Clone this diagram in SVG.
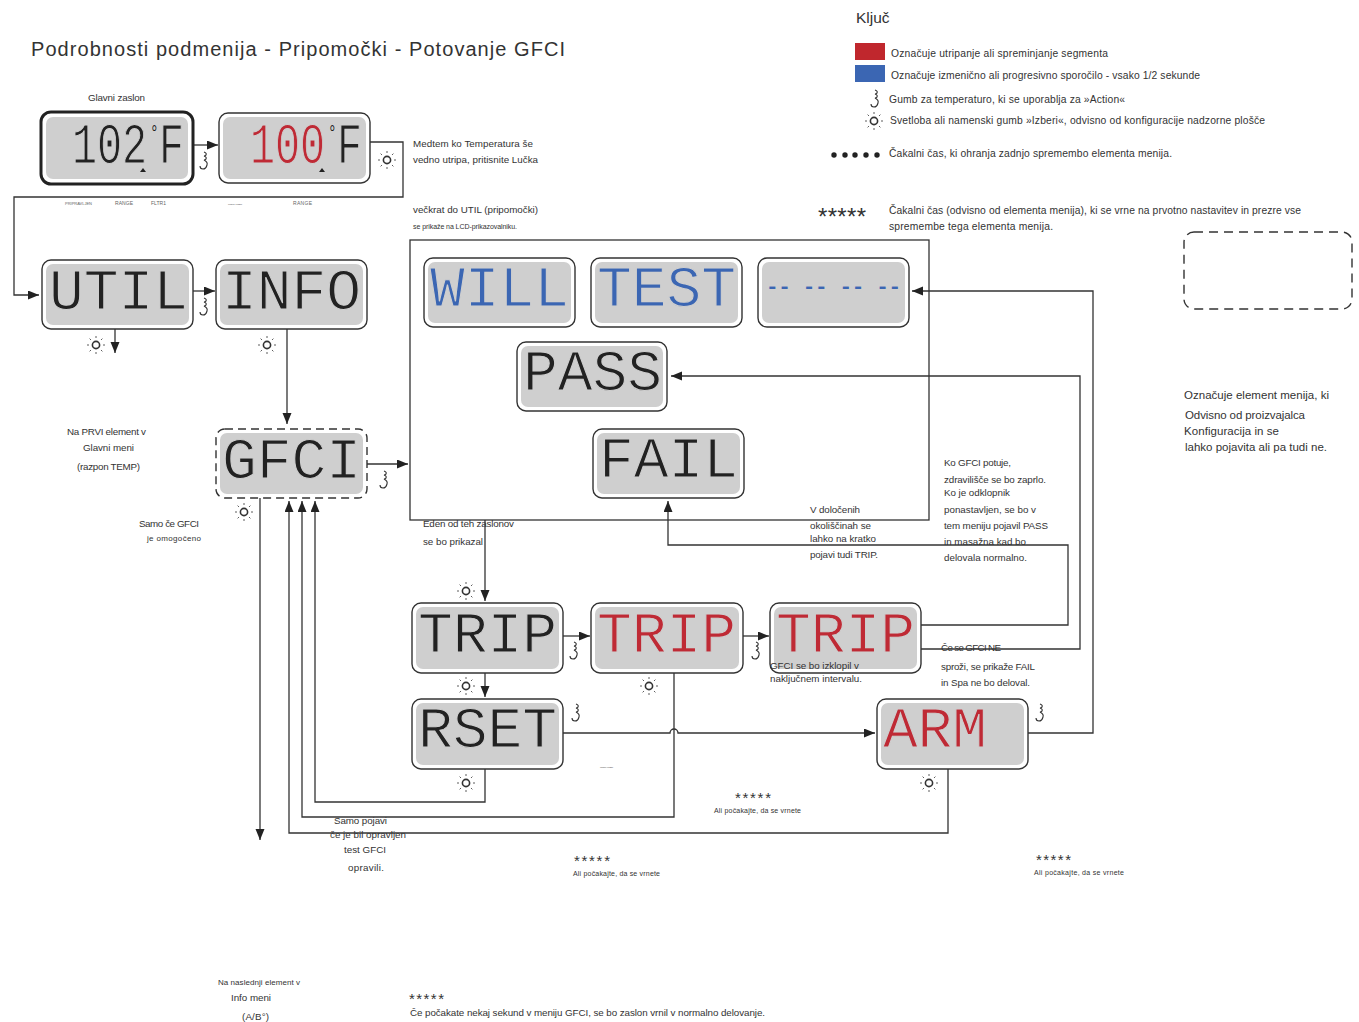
<svg xmlns="http://www.w3.org/2000/svg" width="1359" height="1022" viewBox="0 0 1359 1022">
<style>
text{font-family:"Liberation Sans",Arial,sans-serif;fill:#333;font-size:9.8px}
.title{font-size:20px}
.s7{font-size:7px}.s8{font-size:8px}.s9{font-size:10.3px}.s11{font-size:11.5px}.s15{font-size:15.5px}
.tiny{font-size:5px;fill:#666}
.star{font-size:15px;fill:#333}
.lcd{font-family:"Liberation Mono","DejaVu Sans Mono",monospace;font-size:58px;stroke:#cfcfcf;stroke-width:1.1}
.deg{font-size:20px;stroke:none}
.k{fill:#222}.r{fill:#bf2a35}.b{fill:#3b66b3}
.frame{fill:#fff;stroke:#333;stroke-width:1.4}
.thick{stroke-width:3;stroke:#222}
.dash{stroke-dasharray:8 5}
.screen{fill:#cfcfcf}
.line{fill:none;stroke:#333;stroke-width:1.3}
.icon{fill:none;stroke:#333}
</style>
<defs>
<marker id="arr" markerUnits="userSpaceOnUse" markerWidth="12" markerHeight="10" refX="11" refY="4.5" orient="auto"><path d="M0 0L11 4.5L0 9z" fill="#222"/></marker>
<g id="sun"><circle r="3.6" class="icon" stroke-width="1.6"/><path class="icon" stroke-width=".8" stroke-dasharray="2 1" d="M0-9V-6.5M0 9V6.5M-9 0H-6.5M9 0H6.5M-6.4-6.4L-4.6-4.6M6.4-6.4L4.6-4.6M-6.4 6.4L-4.6 4.6M6.4 6.4L4.6 4.6"/></g>
<path id="knob" class="icon" stroke-width="1.1" d="M0-9q3 1 2 3q-1 1-2 1q3 1 2 3q-1 1-2 1q4 2 3 5q-1 4-4 4q-3 0-3-3"/>
</defs>

<g id="connectors" class="line">
<path class="line" d="M193 145H218" marker-end="url(#arr)"/>
<path class="line" d="M370 142H403V197H14V295H39" marker-end="url(#arr)"/>
<path class="line" d="M193 291H215" marker-end="url(#arr)"/>
<path class="line" d="M115 329V353" marker-end="url(#arr)"/>
<path class="line" d="M287 329V424" marker-end="url(#arr)"/>
<path class="line" d="M367 464H408" marker-end="url(#arr)"/>
<path class="line" d="M260 498V840" marker-end="url(#arr)"/>
<path class="line" d="M948 769V833H289V501" marker-end="url(#arr)"/>
<path class="line" d="M674 673V817H302V501" marker-end="url(#arr)"/>
<path class="line" d="M485 769V802H315V501" marker-end="url(#arr)"/>
<path class="line" d="M485 520V601" marker-end="url(#arr)"/>
<path class="line" d="M485 673V697" marker-end="url(#arr)"/>
<path class="line" d="M563 636H590" marker-end="url(#arr)"/>
<path class="line" d="M743 636H769" marker-end="url(#arr)"/>
<path class="line" d="M563 733H670a4 4 0 0 1 8 0H875" marker-end="url(#arr)"/>
<path class="line" d="M921 625H1068V545H668V501" marker-end="url(#arr)"/>
<path class="line" d="M921 649H1080V376H671" marker-end="url(#arr)"/>
<path class="line" d="M1028 733H1093V291H912" marker-end="url(#arr)"/>
</g>

<rect id="group-box" x="410" y="240" width="519" height="280" fill="none" stroke="#333" stroke-width="1.3"/>

<g id="node-102f"><rect class="frame thick" x="41" y="112" width="152" height="72" rx="10"/><rect class="screen" x="46" y="117" width="142" height="62" rx="7"/><text class="lcd k" transform="translate(72,163) scale(.72,1)">102<tspan class="deg" x="108.5" y="-24">°</tspan><tspan x="121" y="0">F</tspan></text><path class="k" d="M143 168l3 4h-6z"/></g>
<g id="node-100f"><rect class="frame" x="219" y="113" width="151" height="70" rx="9"/><rect class="screen" x="223" y="117" width="143" height="62" rx="7"/><text class="lcd k" transform="translate(250,163) scale(.72,1)"><tspan class="r">100</tspan><tspan class="deg" x="108.5" y="-24">°</tspan><tspan x="121" y="0">F</tspan></text><path class="k" d="M322 168l3 4h-6z"/></g>
<g id="node-util"><rect class="frame" x="42" y="260" width="151" height="69" rx="9"/><rect class="screen" x="46" y="264" width="143" height="61" rx="7"/><text class="lcd k" x="49" y="309" textLength="139">UTIL</text></g>
<g id="node-info"><rect class="frame" x="216" y="260" width="151" height="69" rx="9"/><rect class="screen" x="220" y="264" width="143" height="61" rx="7"/><text class="lcd k" x="222" y="309" textLength="139">INFO</text></g>
<g id="node-gfci"><rect class="frame dash" x="216" y="429" width="151" height="69" rx="9"/><rect class="screen" x="220" y="433" width="143" height="61" rx="7"/><text class="lcd k" x="222" y="478" textLength="139">GFCI</text></g>
<g id="node-will"><rect class="frame" x="424" y="258" width="151" height="69" rx="9"/><rect class="screen" x="428" y="262" width="143" height="61" rx="7"/><text class="lcd b" x="430" y="306" textLength="139">WILL</text></g>
<g id="node-test"><rect class="frame" x="591" y="258" width="151" height="69" rx="9"/><rect class="screen" x="595" y="262" width="143" height="61" rx="7"/><text class="lcd b" x="597" y="306" textLength="139">TEST</text></g>
<g id="node-dashes"><rect class="frame" x="758" y="258" width="151" height="69" rx="9"/><rect class="screen" x="762" y="262" width="143" height="61" rx="7"/><text class="b" style="font-family:'Liberation Mono',monospace;font-size:21px;font-weight:bold" x="766" y="293" textLength="135">-- -- -- --</text></g>
<g id="node-pass"><rect class="frame" x="517" y="342" width="150" height="69" rx="9"/><rect class="screen" x="521" y="346" width="142" height="61" rx="7"/><text class="lcd k" x="523" y="390" textLength="139">PASS</text></g>
<g id="node-fail"><rect class="frame" x="593" y="429" width="151" height="69" rx="9"/><rect class="screen" x="597" y="433" width="143" height="61" rx="7"/><text class="lcd k" x="599" y="477" textLength="139">FAIL</text></g>
<g id="node-trip1"><rect class="frame" x="412" y="603" width="151" height="70" rx="9"/><rect class="screen" x="416" y="607" width="143" height="62" rx="7"/><text class="lcd k" x="418" y="652" textLength="139">TRIP</text></g>
<g id="node-trip2"><rect class="frame" x="591" y="603" width="152" height="70" rx="9"/><rect class="screen" x="595" y="607" width="144" height="62" rx="7"/><text class="lcd r" x="597" y="652" textLength="139">TRIP</text></g>
<g id="node-trip3"><rect class="frame" x="770" y="603" width="151" height="70" rx="9"/><rect class="screen" x="774" y="607" width="143" height="62" rx="7"/><text class="lcd r" x="776" y="652" textLength="139">TRIP</text></g>
<g id="node-rset"><rect class="frame" x="412" y="699" width="151" height="70" rx="9"/><rect class="screen" x="416" y="703" width="143" height="62" rx="7"/><text class="lcd k" x="418" y="747" textLength="139">RSET</text></g>
<g id="node-arm"><rect class="frame" x="877" y="699" width="151" height="70" rx="9"/><rect class="screen" x="881" y="703" width="143" height="62" rx="7"/><text class="lcd r" x="883" y="747" textLength="104">ARM</text></g>
<rect id="key-dashed" x="1184" y="232" width="168" height="77" rx="10" fill="none" stroke="#333" stroke-width="1.4" stroke-dasharray="9 6"/>

<g id="icons">
<use href="#sun" x="387" y="160"/><use href="#sun" x="96" y="345"/><use href="#sun" x="267" y="345"/><use href="#sun" x="244" y="512"/><use href="#sun" x="466" y="591"/><use href="#sun" x="466" y="686"/><use href="#sun" x="649" y="686"/><use href="#sun" x="466" y="783"/><use href="#sun" x="929" y="783"/><use href="#sun" x="874" y="121"/>
<use href="#knob" x="204" y="161"/><use href="#knob" x="204" y="307"/><use href="#knob" x="384" y="480"/><use href="#knob" x="574" y="651"/><use href="#knob" x="756" y="651"/><use href="#knob" x="576" y="713"/><use href="#knob" x="1040" y="713"/><use href="#knob" x="875" y="99"/>
</g>

<g id="key">
<rect x="855" y="43" width="30" height="17" fill="#c0272d"/><rect x="855" y="65" width="30" height="17" fill="#3b66b3"/>
<g fill="#222"><circle cx="834" cy="155" r="2.7"/><circle cx="845" cy="155" r="2.7"/><circle cx="855" cy="155" r="2.7"/><circle cx="866" cy="155" r="2.7"/><circle cx="877" cy="155" r="2.7"/></g>
<text class="s15" x="856" y="23">Ključ</text>
<text class="s9" x="891" y="57" textLength="217">Označuje utripanje ali spreminjanje segmenta</text>
<text class="s9" x="891" y="79" textLength="309">Označuje izmenično ali progresivno sporočilo - vsako 1/2 sekunde</text>
<text class="s9" x="889" y="103" textLength="236">Gumb za temperaturo, ki se uporablja za »Action«</text>
<text class="s9" x="890" y="124" textLength="375">Svetloba ali namenski gumb »Izberi«, odvisno od konfiguracije nadzorne plošče</text>
<text class="s9" x="889" y="157" textLength="283">Čakalni čas, ki ohranja zadnjo spremembo elementa menija.</text>
<text class="star" style="font-size:24px" x="818" y="225" textLength="48">*****</text>
<text class="s9" x="889" y="214" textLength="412">Čakalni čas (odvisno od elementa menija), ki se vrne na prvotno nastavitev in prezre vse</text>
<text class="s9" x="889" y="230" textLength="164">spremembe tega elementa menija.</text>
</g>

<g id="labels">
<text class="title" x="31" y="56" textLength="534">Podrobnosti podmenija - Pripomočki - Potovanje GFCI</text>
<text x="88" y="101" textLength="57">Glavni zaslon</text>
<text x="413" y="147" textLength="120">Medtem ko Temperatura še</text>
<text x="413" y="163" textLength="125">vedno utripa, pritisnite Lučka</text>
<text x="413" y="213" textLength="125">večkrat do UTIL (pripomočki)</text>
<text class="s7" x="413" y="229" textLength="104">se prikaže na LCD-prikazovalniku.</text>
<text class="tiny" x="65" y="205" textLength="27" style="font-size:4px">PRIPRAVLJEN</text>
<text class="tiny" x="115" y="205" textLength="18">RANGE</text>
<text class="tiny" x="151" y="205" textLength="15">FLTR1</text>
<text class="tiny" x="228" y="205" textLength="14" style="font-size:2.5px">PRIPRAVLJEN</text>
<text class="tiny" x="293" y="205" textLength="19">RANGE</text>
<text class="tiny" x="600" y="768" textLength="13" style="font-size:2.5px">PRIPRAVLJEN</text>
<text class="s11" x="1184" y="399" textLength="145">Označuje element menija, ki</text>
<text class="s11" x="1185" y="419" textLength="120">Odvisno od proizvajalca</text>
<text class="s11" x="1184" y="435" textLength="95">Konfiguracija in se</text>
<text class="s11" x="1185" y="451" textLength="142">lahko pojavita ali pa tudi ne.</text>
<text x="67" y="435" textLength="79">Na PRVI element v</text>
<text x="83" y="451" textLength="51">Glavni meni</text>
<text x="77" y="470" textLength="63">(razpon TEMP)</text>
<text x="139" y="527" textLength="60">Samo če GFCI</text>
<text class="s8" x="147" y="541" textLength="54">je omogočeno</text>
<text x="423" y="527" textLength="91">Eden od teh zaslonov</text>
<text x="423" y="545" textLength="60">se bo prikazal</text>
<text x="810" y="513" textLength="50">V določenih</text>
<text x="810" y="529" textLength="61">okoliščinah se</text>
<text x="810" y="542" textLength="66">lahko na kratko</text>
<text x="810" y="558" textLength="68">pojavi tudi TRIP.</text>
<text x="944" y="466" textLength="67">Ko GFCI potuje,</text>
<text x="944" y="483" textLength="102">zdravilišče se bo zaprlo.</text>
<text x="944" y="496" textLength="66">Ko je odklopnik</text>
<text x="944" y="513" textLength="92">ponastavljen, se bo v</text>
<text x="944" y="529" textLength="104">tem meniju pojavil PASS</text>
<text x="944" y="545" textLength="82">in masažna kad bo</text>
<text x="944" y="561" textLength="83">delovala normalno.</text>
<text x="941" y="651" textLength="60">Če se GFCI NE</text>
<text x="941" y="670" textLength="94">sproži, se prikaže FAIL</text>
<text x="941" y="686" textLength="89">in Spa ne bo deloval.</text>
<text x="770" y="669" textLength="89">GFCI se bo izklopil v</text>
<text x="770" y="682" textLength="92">naključnem intervalu.</text>
<text class="star" x="735" y="803" textLength="36">*****</text>
<text class="s7" x="714" y="813" textLength="87">Ali počakajte, da se vrnete</text>
<text class="star" x="574" y="866" textLength="36">*****</text>
<text class="s7" x="573" y="876" textLength="87">Ali počakajte, da se vrnete</text>
<text class="star" x="1036" y="865" textLength="35">*****</text>
<text class="s7" x="1034" y="875" textLength="90">Ali počakajte, da se vrnete</text>
<text x="334" y="824" textLength="53">Samo  pojavi</text>
<text x="330" y="838" textLength="76">če je bil opravljen</text>
<text x="344" y="853" textLength="42">test GFCI</text>
<text x="348" y="871" textLength="36">opravili.</text>
<text class="s8" x="218" y="985" textLength="82">Na naslednji element v</text>
<text x="231" y="1001" textLength="40">Info meni</text>
<text x="242" y="1020" textLength="27">(A/B°)</text>
<text class="star" x="409" y="1004" textLength="35">*****</text>
<text x="410" y="1016" textLength="355">Če počakate nekaj sekund v meniju GFCI, se bo zaslon vrnil v normalno delovanje.</text>
</g>
</svg>
